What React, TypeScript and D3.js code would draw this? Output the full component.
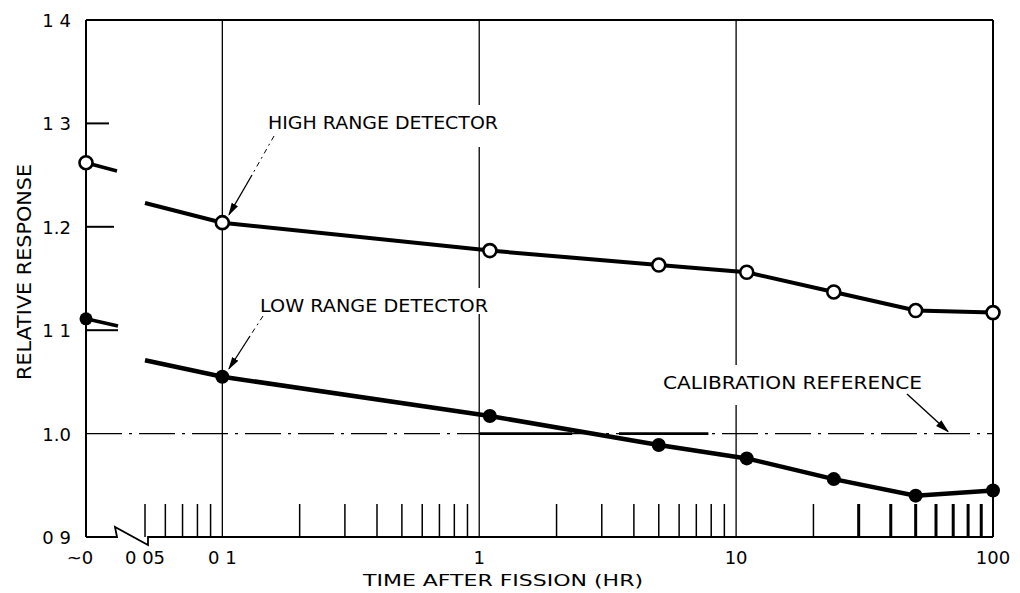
import * as d3 from 'd3';

// hours after fission (log axis), first entry is where the drawn curve starts
const hours = [0.05, 0.1, 1.1, 5, 11, 24, 50, 100];
const highRange = [1.223, 1.204, 1.177, 1.163, 1.156, 1.137, 1.119, 1.117];
const lowRange = [1.071, 1.055, 1.017, 0.989, 0.976, 0.956, 0.94, 0.945];
// values at "~0" on the broken-off axis, and where their short stub ends
const highAtZero = [1.262, 1.254];
const lowAtZero = [1.111, 1.104];

const yTicks = [0.9, 1.0, 1.1, 1.2, 1.3, 1.4];
const yTickLabels = ['0 9', '1.0', '1 1', '1.2', '1 3', '1 4'];
const xMajor = [0.1, 1, 10, 100];
const xTickLabels = ['0 1', '1', '10', '100'];
const calibration = 1.0;
const calibHeavy = [[1, 2.3], [3.5, 7.8]];

const W = 1020;
const H = 593;
const zeroX = 86;

export default function App() {
  const x = d3.scaleLog().domain([0.05, 100]).range([145, 993]);
  const y = d3.scaleLinear().domain([0.9, 1.4]).range([537, 20]);
  const line = d3.line<number>()
    .x((_, i) => x(hours[i]))
    .y((v) => y(v));

  const minor = x.ticks().filter((t) => !xMajor.includes(+t.toPrecision(3)) && t < 100);
  const font = '"DejaVu Sans", sans-serif';
  const top = y(1.4);
  const bottom = y(0.9);

  // annotation labels: text box and the white gap they leave in the grid
  const labels = [
    { text: 'HIGH RANGE DETECTOR', x: 268, y: 129, w: 230, below: 18 },
    { text: 'LOW RANGE DETECTOR', x: 260, y: 312, w: 228, below: 2 },
    { text: 'CALIBRATION REFERENCE', x: 663, y: 389, w: 259, below: 16 },
  ];

  return (
    <svg width={W} height={H} style={{ position: 'absolute', left: 0, top: 0, background: '#fff' }}>
      <defs>
        <marker id="arr" viewBox="0 0 10 10" refX="9" refY="5" markerWidth="10" markerHeight="10" orient="auto">
          <path d="M0,2.2 L10,5 L0,7.8 Z" fill="#000" />
        </marker>
      </defs>
      <g stroke="#000" fill="none">
        {/* frame */}
        <line x1={zeroX} x2={x(100)} y1={top} y2={top} strokeWidth={2} />
        <line x1={zeroX} x2={zeroX} y1={top} y2={bottom} strokeWidth={2} />
        <line x1={x(100)} x2={x(100)} y1={top} y2={bottom} strokeWidth={2} />
        {/* broken bottom axis */}
        <path d={`M${zeroX},${bottom} H117 L115,${bottom - 10} L148,${bottom + 8} L148,${bottom} H${x(100)}`} strokeWidth={1.8} />
        {/* major grid */}
        {xMajor.slice(0, 3).map((t) => (
          <line key={t} x1={x(t)} x2={x(t)} y1={top} y2={bottom} strokeWidth={1.3} />
        ))}
        {/* minor ticks */}
        {minor.map((t) => (
          <line key={t} x1={x(t)} x2={x(t)} y1={bottom} y2={bottom - 33} strokeWidth={t >= 30 ? 3 : 1.5} />
        ))}
        {/* left axis ticks */}
        {[1.1, 1.2, 1.3].map((t, i) => (
          <line key={t} x1={zeroX} x2={[118, 114, 109][i]} y1={y(t)} y2={y(t)} strokeWidth={2} />
        ))}
        {/* calibration reference */}
        <line x1={zeroX} x2={x(100)} y1={y(calibration)} y2={y(calibration)} strokeWidth={1.3} strokeDasharray="36 7 3 7" />
        {calibHeavy.map(([a, b]) => (
          <line key={a} x1={x(a)} x2={x(b)} y1={y(calibration)} y2={y(calibration)} strokeWidth={2.6} />
        ))}
        {labels.map((l) => (
          <rect key={l.text} x={l.x - 4} y={l.y - 24} width={l.w + 8} height={24 + l.below} fill="#fff" stroke="none" />
        ))}
        {/* series */}
        <path d={line(highRange) ?? ''} strokeWidth={4} />
        <path d={line(lowRange) ?? ''} strokeWidth={4.5} />
        <line x1={zeroX} x2={117} y1={y(highAtZero[0])} y2={y(highAtZero[1])} strokeWidth={3.5} />
        <line x1={zeroX} x2={118} y1={y(lowAtZero[0])} y2={y(lowAtZero[1])} strokeWidth={3.5} />
        {highRange.slice(1).map((v, i) => (
          <circle key={i} cx={x(hours[i + 1])} cy={y(v)} r={6.5} fill="#fff" strokeWidth={2.6} />
        ))}
        <circle cx={zeroX} cy={y(highAtZero[0])} r={6.5} fill="#fff" strokeWidth={2.6} />
        {lowRange.slice(1).map((v, i) => (
          <circle key={i} cx={x(hours[i + 1])} cy={y(v)} r={7} fill="#000" stroke="none" />
        ))}
        <circle cx={zeroX} cy={y(lowAtZero[0])} r={6.5} fill="#000" stroke="none" />
        {/* leaders */}
        <line x1={274} y1={136} x2={252} y2={175} strokeWidth={1} strokeDasharray="5 4 2 4" />
        <line x1={252} y1={175} x2={229} y2={y(highRange[1]) - 8} strokeWidth={1.3} markerEnd="url(#arr)" />
        <line x1={263} y1={316} x2={250} y2={336} strokeWidth={1} strokeDasharray="5 4 2 4" />
        <line x1={250} y1={336} x2={229} y2={y(lowRange[1]) - 8} strokeWidth={1.3} markerEnd="url(#arr)" />
        <line x1={907} y1={394} x2={948} y2={y(calibration) - 2} strokeWidth={1.4} markerEnd="url(#arr)" />
      </g>
      <g fontFamily={font} fill="#000" fontSize={18}>
        {yTicks.map((t, i) => (
          <text key={t} x={71} y={y(t) + 7} textAnchor="end">{yTickLabels[i]}</text>
        ))}
        <text x={80} y={564} textAnchor="middle">~0</text>
        <text x={145} y={564} textAnchor="middle">0 05</text>
        {xMajor.map((t, i) => (
          <text key={t} x={x(t)} y={564} textAnchor="middle">{xTickLabels[i]}</text>
        ))}
        <text x={363} y={586} textLength={280} lengthAdjust="spacingAndGlyphs" fontSize={16}>TIME AFTER FISSION  (HR)</text>
        <text transform="translate(31,380) rotate(-90)" textLength={216} lengthAdjust="spacingAndGlyphs" fontSize={19}>RELATIVE RESPONSE</text>
        {labels.map((l) => (
          <text key={l.text} x={l.x} y={l.y} textLength={l.w} lengthAdjust="spacingAndGlyphs" fontSize={18}>{l.text}</text>
        ))}
      </g>
    </svg>
  );
}
